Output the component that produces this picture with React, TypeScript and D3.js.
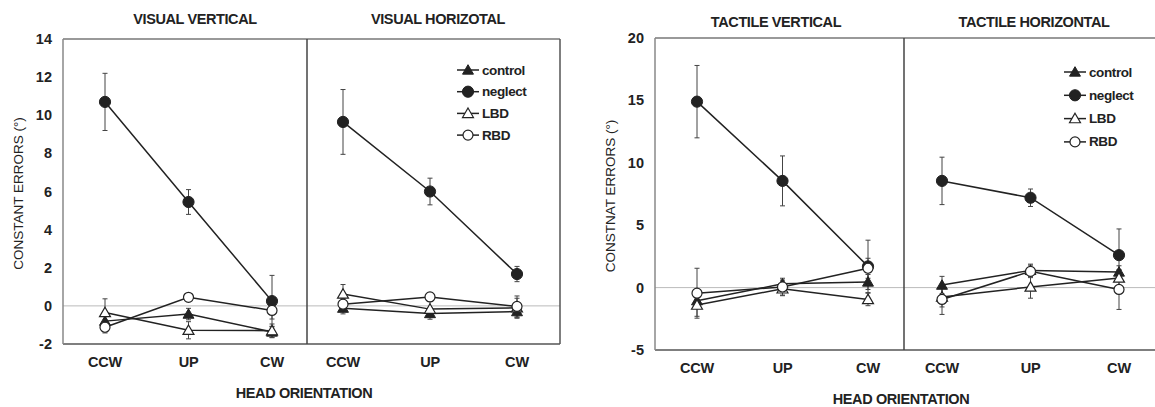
import React from "react";
import * as d3 from "d3";

const categories = ["CCW", "UP", "CW"];
const seriesNames = ["control", "neglect", "LBD", "RBD"];

// Visual vertical
const vvControl = [-0.8, -0.43, -1.37];
const vvNeglect = [10.7, 5.45, 0.25];
const vvLBD = [-0.35, -1.28, -1.3];
const vvRBD = [-1.12, 0.45, -0.24];
const vvControlErr = [0.35, 0.3, 0.3];
const vvNeglectErr = [1.5, 0.65, 1.35];
const vvLBDErr = [0.72, 0.45, 0.35];
const vvRBDErr = [0.3, 0.2, 0.45];

// Visual horizontal
const vhControl = [-0.12, -0.4, -0.3];
const vhNeglect = [9.65, 6.0, 1.67];
const vhLBD = [0.62, -0.17, -0.1];
const vhRBD = [0.09, 0.47, -0.03];
const vhControlErr = [0.3, 0.3, 0.35];
const vhNeglectErr = [1.7, 0.7, 0.4];
const vhLBDErr = [0.5, 0.4, 0.5];
const vhRBDErr = [0.3, 0.2, 0.55];

// Tactile vertical
const tvControl = [-1.05, 0.3, 0.45];
const tvNeglect = [14.9, 8.55, 1.7];
const tvLBD = [-1.4, -0.1, -0.95];
const tvRBD = [-0.45, 0.05, 1.55];
const tvControlErr = [0.5, 0.3, 0.6];
const tvNeglectErr = [2.9, 2.0, 2.1];
const tvLBDErr = [0.9, 0.5, 0.5];
const tvRBDErr = [2.0, 0.7, 0.8];

// Tactile horizontal
const thControl = [0.2, 1.38, 1.25];
const thNeglect = [8.55, 7.2, 2.6];
const thLBD = [-0.75, 0.05, 0.77];
const thRBD = [-0.95, 1.3, -0.15];
const thControlErr = [0.7, 0.5, 0.5];
const thNeglectErr = [1.9, 0.7, 2.1];
const thLBDErr = [0.8, 0.9, 0.6];
const thRBDErr = [1.2, 0.5, 1.6];

const leftTicks = [-2, 0, 2, 4, 6, 8, 10, 12, 14];
const rightTicks = [-5, 0, 5, 10, 15, 20];

const FONT = "'Liberation Sans', Arial, sans-serif";
const INK = "#222";

type Series = { name: string; values: number[]; errs: number[] };

function mk(c: number[], n: number[], l: number[], r: number[], ce: number[], ne: number[], le: number[], re: number[]): Series[] {
  return [
    { name: seriesNames[0], values: c, errs: ce },
    { name: seriesNames[1], values: n, errs: ne },
    { name: seriesNames[2], values: l, errs: le },
    { name: seriesNames[3], values: r, errs: re },
  ];
}

const vvSeries = mk(vvControl, vvNeglect, vvLBD, vvRBD, vvControlErr, vvNeglectErr, vvLBDErr, vvRBDErr);
const vhSeries = mk(vhControl, vhNeglect, vhLBD, vhRBD, vhControlErr, vhNeglectErr, vhLBDErr, vhRBDErr);
const tvSeries = mk(tvControl, tvNeglect, tvLBD, tvRBD, tvControlErr, tvNeglectErr, tvLBDErr, tvRBDErr);
const thSeries = mk(thControl, thNeglect, thLBD, thRBD, thControlErr, thNeglectErr, thLBDErr, thRBDErr);

const triPath = d3.symbol().type(d3.symbolTriangle).size(52)() as string;

function Marker({ name, x, y }: { name: string; x: number; y: number }) {
  if (name === "control")
    return <path d={triPath} transform={`translate(${x},${y + 1})`} fill={INK} stroke={INK} strokeWidth={1} />;
  if (name === "neglect") return <circle cx={x} cy={y} r={5.6} fill={INK} stroke={INK} strokeWidth={1} />;
  if (name === "LBD")
    return <path d={triPath} transform={`translate(${x},${y + 1})`} fill="#fff" stroke={INK} strokeWidth={1.2} />;
  return <circle cx={x} cy={y} r={5} fill="#fff" stroke={INK} strokeWidth={1.2} />;
}

function SubPanel({ series, xRange, y }: { series: Series[]; xRange: [number, number]; y: d3.ScaleLinear<number, number> }) {
  const x = d3.scalePoint<string>().domain(categories).range(xRange);
  const line = d3
    .line<number>()
    .x((_, i) => x(categories[i]) as number)
    .y((v) => y(v));
  return (
    <g>
      {series.map((s) =>
        s.values.map((v, i) => {
          const cx = x(categories[i]) as number;
          const y1 = y(v + s.errs[i]);
          const y2 = y(v - s.errs[i]);
          return (
            <g key={`e-${s.name}-${i}`} stroke="#444" strokeWidth={1}>
              <line x1={cx} x2={cx} y1={y1} y2={y2} />
              <line x1={cx - 2.5} x2={cx + 2.5} y1={y1} y2={y1} />
              <line x1={cx - 2.5} x2={cx + 2.5} y1={y2} y2={y2} />
            </g>
          );
        })
      )}
      {series.map((s) => (
        <path key={`l-${s.name}`} d={line(s.values) as string} fill="none" stroke={INK} strokeWidth={1.5} />
      ))}
      {series.map((s) =>
        s.values.map((v, i) => (
          <Marker key={`m-${s.name}-${i}`} name={s.name} x={x(categories[i]) as number} y={y(v)} />
        ))
      )}
      {categories.map((c) => (
        <text
          key={c}
          x={x(c) as number}
          y={y.range()[0] + 23}
          textAnchor="middle"
          fontFamily={FONT}
          fontWeight="bold"
          fontSize={14.5}
          letterSpacing={-0.2}
          fill={INK}
        >
          {c}
        </text>
      ))}
    </g>
  );
}

function Legend({ x0, y0, dy }: { x0: number; y0: number; dy: number }) {
  return (
    <g>
      {seriesNames.map((n, i) => (
        <g key={n}>
          <line x1={x0} x2={x0 + 22} y1={y0 + i * dy} y2={y0 + i * dy} stroke={INK} strokeWidth={1.5} />
          <Marker name={n} x={x0 + 11} y={y0 + i * dy} />
          <text
            x={x0 + 25}
            y={y0 + i * dy}
            dominantBaseline="central"
            fontFamily={FONT}
            fontWeight="bold"
            fontSize={13.5}
            letterSpacing={-0.4}
            fill={INK}
          >
            {n}
          </text>
        </g>
      ))}
    </g>
  );
}

type ChartCfg = {
  left: number;
  mid: number;
  right: number;
  top: number;
  bottom: number;
  domain: [number, number];
  ticks: number[];
  ylabel: string;
  titles: [string, string];
  titleX: [number, number];
  series: [Series[], Series[]];
  ranges: [[number, number], [number, number]];
  legend: [number, number, number];
  titleY: number;
  rightBorder: boolean;
};

function Chart({ cfg }: { cfg: ChartCfg }) {
  const y = d3.scaleLinear().domain(cfg.domain).range([cfg.bottom, cfg.top]);
  const right = cfg.right;
  return (
    <g>
      <line x1={cfg.left} x2={right} y1={y(0)} y2={y(0)} stroke="#bbb" strokeWidth={1} />
      <line x1={cfg.left} x2={right} y1={cfg.top} y2={cfg.top} stroke="#777" strokeWidth={1.5} />
      <line x1={cfg.left} x2={right} y1={cfg.bottom} y2={cfg.bottom} stroke="#555" strokeWidth={1.5} />
      <line x1={cfg.left} x2={cfg.left} y1={cfg.top} y2={cfg.bottom} stroke="#888" strokeWidth={1.5} />
      <line x1={cfg.mid} x2={cfg.mid} y1={cfg.top} y2={cfg.bottom} stroke="#444" strokeWidth={1.5} />
      {cfg.rightBorder && <line x1={right} x2={right} y1={cfg.top} y2={cfg.bottom} stroke="#555" strokeWidth={1.5} />}
      {cfg.ticks.map((t) => (
        <text
          key={t}
          x={cfg.left - 11}
          y={y(t)}
          textAnchor="end"
          dominantBaseline="central"
          fontFamily={FONT}
          fontWeight="bold"
          fontSize={14.5}
          fill={INK}
        >
          {t}
        </text>
      ))}
      <text
        transform={`translate(${cfg.left - 45},${(cfg.top + cfg.bottom) / 2 + 2}) rotate(-90)`}
        textAnchor="middle"
        dominantBaseline="central"
        fontFamily={FONT}
        fontSize={13.5}
        fill={INK}
      >
        {cfg.ylabel}
      </text>
      <SubPanel series={cfg.series[0]} xRange={cfg.ranges[0]} y={y} />
      <SubPanel series={cfg.series[1]} xRange={cfg.ranges[1]} y={y} />
      {cfg.titles.map((t, i) => (
        <text
          key={t}
          x={cfg.titleX[i]}
          y={cfg.titleY}
          textAnchor="middle"
          fontFamily={FONT}
          fontWeight="bold"
          fontSize={14.5}
          letterSpacing={-0.4}
          fill={INK}
        >
          {t}
        </text>
      ))}
      <text
        x={cfg.mid - 3}
        y={cfg.bottom + 54}
        textAnchor="middle"
        fontFamily={FONT}
        fontWeight="bold"
        fontSize={14.5}
        letterSpacing={-0.4}
        fill={INK}
      >
        HEAD ORIENTATION
      </text>
      <Legend x0={cfg.legend[0]} y0={cfg.legend[1]} dy={cfg.legend[2]} />
    </g>
  );
}

const leftCfg: ChartCfg = {
  left: 63,
  mid: 307,
  right: 560,
  top: 39,
  bottom: 344,
  domain: [-2, 14],
  ticks: leftTicks,
  ylabel: "CONSTANT ERRORS (°)",
  titles: ["VISUAL VERTICAL", "VISUAL HORIZOTAL"],
  titleX: [195, 438],
  series: [vvSeries, vhSeries],
  ranges: [
    [105, 272],
    [343, 517],
  ],
  legend: [457, 70, 21.7],
  titleY: 24,
  rightBorder: true,
};

const rightCfg: ChartCfg = {
  left: 655,
  mid: 904,
  right: 1160,
  top: 38,
  bottom: 350,
  domain: [-5, 20],
  ticks: rightTicks,
  ylabel: "CONSTNAT ERRORS (°)",
  titles: ["TACTILE VERTICAL", "TACTILE HORIZONTAL"],
  titleX: [776, 1034],
  series: [tvSeries, thSeries],
  ranges: [
    [697, 868],
    [942, 1119],
  ],
  legend: [1064, 72, 23.3],
  titleY: 27,
  rightBorder: false,
};

export default function App() {
  return (
    <svg width={1155} height={407} style={{ position: "absolute", left: 0, top: 0, background: "#fff" }}>
      <rect x={0} y={0} width={1155} height={407} fill="#fff" />
      <Chart cfg={leftCfg} />
      <Chart cfg={rightCfg} />
    </svg>
  );
}
